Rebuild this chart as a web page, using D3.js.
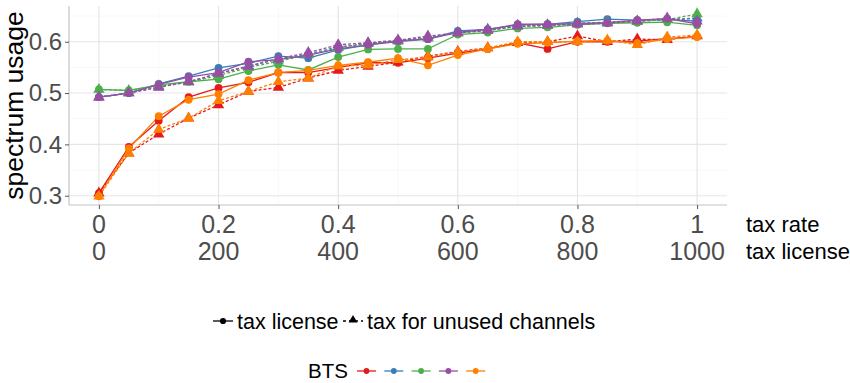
<!DOCTYPE html>
<html>
<head>
<meta charset="utf-8">
<script src="https://cdn.jsdelivr.net/npm/d3@7"></script>
<style>
  body { margin: 0; background: #fff; }
  svg { display: block; font-family: "Liberation Sans", Arial, sans-serif; }
</style>
</head>
<body>
<svg width="850" height="383"></svg>
<script>
// x positions (tax rate); tax license = tax rate * 1000
var taxRate = [0, 0.05, 0.1, 0.15, 0.2, 0.25, 0.3, 0.35, 0.4, 0.45, 0.5,
               0.55, 0.6, 0.65, 0.7, 0.75, 0.8, 0.85, 0.9, 0.95, 1];

var rateTicks = [0, 0.2, 0.4, 0.6, 0.8, 1];
var rateLabels = ["0", "0.2", "0.4", "0.6", "0.8", "1"];
var licenseLabels = ["0", "200", "400", "600", "800", "1000"];
var yTicks = [0.3, 0.4, 0.5, 0.6];

var btsNames = ["1", "2", "3", "4", "5"];
var btsColors = ["#e41a1c", "#377eb8", "#4daf4a", "#984ea3", "#ff7f00"];

// spectrum usage, "tax license" (solid, circles)
var license = [
  [0.305, 0.395, 0.446, 0.492, 0.510, 0.521, 0.540, 0.540, 0.550, 0.559, 0.559, 0.568, 0.578, 0.586, 0.598, 0.586, 0.600, 0.600, 0.601, 0.606, 0.610],
  [0.492, 0.500, 0.518, 0.533, 0.549, 0.558, 0.572, 0.568, 0.584, 0.594, 0.600, 0.605, 0.621, 0.624, 0.633, 0.634, 0.639, 0.644, 0.642, 0.643, 0.640],
  [0.507, 0.505, 0.516, 0.522, 0.527, 0.543, 0.555, 0.545, 0.570, 0.585, 0.586, 0.586, 0.614, 0.618, 0.626, 0.628, 0.633, 0.636, 0.637, 0.638, 0.632],
  [0.492, 0.500, 0.517, 0.531, 0.540, 0.561, 0.565, 0.574, 0.586, 0.594, 0.602, 0.605, 0.618, 0.624, 0.634, 0.634, 0.635, 0.637, 0.642, 0.645, 0.635],
  [0.299, 0.392, 0.455, 0.487, 0.498, 0.525, 0.540, 0.544, 0.554, 0.560, 0.568, 0.554, 0.574, 0.586, 0.596, 0.598, 0.601, 0.602, 0.597, 0.605, 0.609]
];

// spectrum usage, "tax for unused channels" (dashed, triangles)
var unused = [
  [0.305, 0.383, 0.420, 0.451, 0.477, 0.503, 0.511, 0.529, 0.544, 0.552, 0.560, 0.572, 0.581, 0.588, 0.598, 0.600, 0.611, 0.600, 0.605, 0.604, 0.611],
  [0.492, 0.500, 0.512, 0.522, 0.538, 0.553, 0.566, 0.576, 0.590, 0.596, 0.602, 0.609, 0.618, 0.624, 0.632, 0.633, 0.636, 0.638, 0.640, 0.643, 0.646],
  [0.507, 0.505, 0.514, 0.521, 0.534, 0.550, 0.562, 0.574, 0.588, 0.597, 0.601, 0.607, 0.617, 0.622, 0.630, 0.631, 0.635, 0.638, 0.640, 0.643, 0.654],
  [0.492, 0.500, 0.511, 0.522, 0.538, 0.552, 0.567, 0.579, 0.594, 0.598, 0.603, 0.611, 0.617, 0.622, 0.630, 0.632, 0.634, 0.636, 0.640, 0.646, 0.640],
  [0.299, 0.383, 0.429, 0.451, 0.485, 0.503, 0.522, 0.529, 0.553, 0.554, 0.565, 0.570, 0.580, 0.588, 0.600, 0.600, 0.600, 0.603, 0.594, 0.609, 0.613]
];

var svg = d3.select("svg"),
    margin = {top: 6, left: 69},
    width = 658,
    height = 199;

var x = d3.scaleLinear().domain([-0.05, 1.05]).range([margin.left, margin.left + width]);
var y = d3.scaleLinear().domain([0.2819, 0.6696]).range([margin.top + height, margin.top]);

var grid = svg.append("g");
// minor grid
[0.35, 0.45, 0.55, 0.65].forEach(function(v) {
  grid.append("line").attr("x1", x.range()[0]).attr("x2", x.range()[1])
    .attr("y1", y(v)).attr("y2", y(v)).attr("stroke", "#f4f4f4").attr("stroke-width", 0.6);
});
[0.1, 0.3, 0.5, 0.7, 0.9].forEach(function(v) {
  grid.append("line").attr("y1", y.range()[0]).attr("y2", y.range()[1])
    .attr("x1", x(v)).attr("x2", x(v)).attr("stroke", "#f4f4f4").attr("stroke-width", 0.6);
});
// major grid
yTicks.forEach(function(v) {
  grid.append("line").attr("x1", x.range()[0]).attr("x2", x.range()[1])
    .attr("y1", y(v)).attr("y2", y(v)).attr("stroke", "#e6e6e6").attr("stroke-width", 1.1);
});
rateTicks.forEach(function(v) {
  grid.append("line").attr("y1", y.range()[0]).attr("y2", y.range()[1])
    .attr("x1", x(v)).attr("x2", x(v)).attr("stroke", "#e3e3e3").attr("stroke-width", 1.1);
});

// axis lines
svg.append("line").attr("x1", x.range()[0]).attr("x2", x.range()[0])
  .attr("y1", y.range()[0]).attr("y2", y.range()[1]).attr("stroke", "#c4c4c4").attr("stroke-width", 1.2);
svg.append("line").attr("x1", x.range()[0]).attr("x2", x.range()[1])
  .attr("y1", y.range()[0]).attr("y2", y.range()[0]).attr("stroke", "#c4c4c4").attr("stroke-width", 1.2);

// y axis
var yAxis = svg.append("g")
  .attr("transform", "translate(" + margin.left + ",0)")
  .call(d3.axisLeft(y).tickValues(yTicks).tickSize(4).tickPadding(3).tickFormat(d3.format(".1f")));
yAxis.select(".domain").remove();
yAxis.selectAll("line").attr("stroke", "#555");
yAxis.selectAll("text").attr("fill", "#4d4d4d").attr("font-size", 24).attr("font-family", null);

// x axis, two label rows
var xAxis = svg.append("g")
  .attr("transform", "translate(0," + (margin.top + height) + ")")
  .call(d3.axisBottom(x).tickValues(rateTicks).tickSize(4).tickFormat(""));
xAxis.select(".domain").remove();
xAxis.selectAll("line").attr("stroke", "#555");

var xLab = svg.append("g")
  .attr("fill", "#4d4d4d")
  .attr("font-size", 25)
  .attr("text-anchor", "middle");
xLab.selectAll(".rate")
  .data(rateTicks)
  .enter().append("text")
  .attr("class", "rate")
  .attr("x", function(d) { return x(d); })
  .attr("y", 233)
  .text(function(d, i) { return rateLabels[i]; });
xLab.selectAll(".lic")
  .data(rateTicks)
  .enter().append("text")
  .attr("class", "lic")
  .attr("x", function(d) { return x(d); })
  .attr("y", 260)
  .text(function(d, i) { return licenseLabels[i]; });

svg.append("text").attr("x", 746).attr("y", 232).attr("font-size", 22).attr("fill", "#000").text("tax rate");
svg.append("text").attr("x", 746).attr("y", 259).attr("font-size", 22).attr("fill", "#000").text("tax license");

svg.append("text")
  .attr("transform", "translate(23," + (margin.top + height / 2) + ") rotate(-90)")
  .attr("text-anchor", "middle")
  .attr("font-size", 26.5)
  .attr("fill", "#000")
  .text("spectrum usage");

// lines
var line = d3.line()
  .x(function(d, i) { return x(taxRate[i]); })
  .y(function(d) { return y(d); });

var series = [];
btsNames.forEach(function(b, k) {
  series.push({bts: k, type: "license", values: license[k]});
  series.push({bts: k, type: "unused", values: unused[k]});
});

var lines = svg.append("g");
series.forEach(function(s) {
  lines.append("path")
    .attr("d", line(s.values))
    .attr("fill", "none")
    .attr("stroke", btsColors[s.bts])
    .attr("stroke-width", 1.3)
    .attr("stroke-dasharray", s.type == "unused" ? "3,2" : null);
});

var circle = d3.symbol().type(d3.symbolCircle).size(48);
var triangle = d3.symbol().type(d3.symbolTriangle).size(56);

var pts = svg.append("g");
series.forEach(function(s) {
  pts.selectAll(null)
    .data(s.values)
    .enter().append("path")
    .attr("transform", function(d, i) { return "translate(" + x(taxRate[i]) + "," + y(d) + ")"; })
    .attr("d", s.type == "unused" ? triangle : circle)
    .attr("fill", btsColors[s.bts]);
});

// legend: type
var leg1 = svg.append("g").attr("font-size", 21.5).attr("fill", "#000");
leg1.append("line").attr("x1", 213).attr("x2", 233).attr("y1", 321).attr("y2", 321)
  .attr("stroke", "#000").attr("stroke-width", 1.3);
leg1.append("path").attr("transform", "translate(223,321)").attr("d", d3.symbol().type(d3.symbolCircle).size(30));
leg1.append("text").attr("x", 237).attr("y", 329).text("tax license");
leg1.append("line").attr("x1", 343).attr("x2", 363).attr("y1", 321).attr("y2", 321)
  .attr("stroke", "#000").attr("stroke-width", 1.3).attr("stroke-dasharray", "3,3");
leg1.append("path").attr("transform", "translate(353,320)").attr("d", d3.symbol().type(d3.symbolTriangle).size(34));
leg1.append("text").attr("x", 367).attr("y", 329).text("tax for unused channels");

// legend: BTS
var leg2 = svg.append("g");
leg2.append("text").attr("x", 308).attr("y", 378).attr("font-size", 20.5).attr("fill", "#000").text("BTS");
var keys = leg2.selectAll("g")
  .data(btsNames)
  .enter().append("g")
  .attr("transform", function(d, i) { return "translate(" + (357 + i * 27.3) + ",371)"; });
keys.append("line").attr("x1", 0).attr("x2", 19).attr("stroke", function(d, i) { return btsColors[i]; })
  .attr("stroke-width", 1.3);
keys.append("path").attr("transform", "translate(9.5,0)")
  .attr("d", d3.symbol().type(d3.symbolCircle).size(26))
  .attr("fill", function(d, i) { return btsColors[i]; });
</script>
</body>
</html>
